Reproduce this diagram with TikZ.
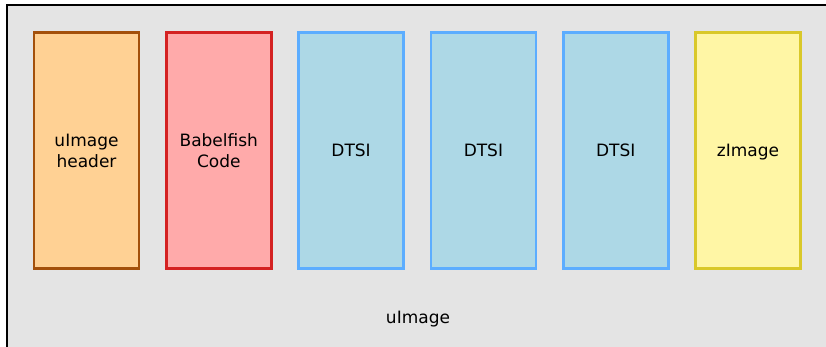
\documentclass[tikz,border=0pt]{standalone}
\usepackage{fontspec}
\setmainfont{DejaVu Sans}
\usetikzlibrary{positioning}

\definecolor{hdrfill}{HTML}{FFD194}
\definecolor{hdrline}{HTML}{A3500B}
\definecolor{bfhfill}{HTML}{FFAAAA}
\definecolor{bfhline}{HTML}{D42222}
\definecolor{dtsfill}{HTML}{ADD8E6}
\definecolor{dtsline}{HTML}{5CADFF}
\definecolor{zimfill}{HTML}{FFF6A5}
\definecolor{zimline}{HTML}{D9C82A}
\definecolor{bgfill}{HTML}{E4E4E4}

\begin{document}
\begin{tikzpicture}[x=1pt, y=-1pt, node distance=24.6pt]
    \tikzstyle{part}=[draw, line width=2.7pt, minimum width=105pt, minimum height=236pt,
      align=center, font=\fontsize{17}{21}\selectfont, inner sep=0pt]
    \useasboundingbox (0,0) rectangle (826,347);
    \draw[fill=bgfill, line width=2.5pt] (7,5) rectangle (840,360);
    \node[part, fill=hdrfill, draw=hdrline] (hdr) at (86.5,150.5) {uImage\\header};
    \node[part, fill=bfhfill, draw=bfhline, right=of hdr] (bfh) {Babelfish\\Code};
    \node[part, fill=dtsfill, draw=dtsline, right=of bfh] (dtsa) {DTSI};
    \node[part, fill=dtsfill, draw=dtsline, right=of dtsa] (dtsb) {DTSI};
    \node[part, fill=dtsfill, draw=dtsline, right=of dtsb] (dtsc) {DTSI};
    \node[part, fill=zimfill, draw=zimline, text depth=0pt, right=of dtsc] (zim) {zImage};
    \node[font=\fontsize{17}{21}\selectfont] (uimg) at (418,319) {uImage};
  \end{tikzpicture}
\end{document}
